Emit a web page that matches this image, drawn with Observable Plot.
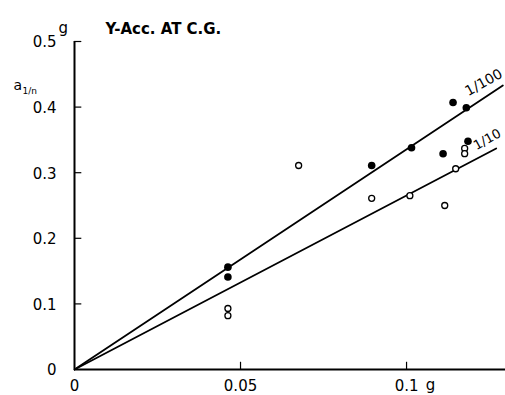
<!DOCTYPE html>
<html><head><meta charset="utf-8">
<script src="https://cdn.jsdelivr.net/npm/d3@7"></script>
<script src="https://cdn.jsdelivr.net/npm/@observablehq/plot@0.6"></script>
<style>body{margin:0;background:#fff}</style>
</head><body><div id="chart"></div>
<script>
const title = "Y-Acc. AT C.G.";
const xTicks = [0, 0.05, 0.1];
const xTickLabels = ["0", "0.05", "0.1"];
const yTicks = [0, 0.1, 0.2, 0.3, 0.4, 0.5];
const yTickLabels = ["0", "0.1", "0.2", "0.3", "0.4", "0.5"];
// 1/100 (filled) data
const filledX = [0.0462, 0.0462, 0.0895, 0.1015, 0.111, 0.114, 0.118, 0.1185];
const filledY = [0.156, 0.141, 0.311, 0.338, 0.329, 0.407, 0.399, 0.348];
// 1/10 (open) data
const openX = [0.0462, 0.0462, 0.0675, 0.0895, 0.101, 0.1115, 0.1148, 0.1175, 0.1175];
const openY = [0.093, 0.082, 0.311, 0.261, 0.265, 0.25, 0.306, 0.337, 0.329];
// fitted lines
const lineX100 = [0, 0.129], lineY100 = [0, 0.433];
const lineX10 = [0, 0.127], lineY10 = [0, 0.337];
const lineLabels = ["1/100", "1/10"];

const filled = filledX.map((x, i) => ({x, y: filledY[i]}));
const open = openX.map((x, i) => ({x, y: openY[i]}));
const l100 = lineX100.map((x, i) => ({x, y: lineY100[i]}));
const l10 = lineX10.map((x, i) => ({x, y: lineY10[i]}));
const font = "DejaVu Sans";

const chart = Plot.plot({
  width: 505, height: 395,
  marginLeft: 74, marginRight: 0, marginTop: 41, marginBottom: 26,
  style: {fontFamily: font, background: "#fff"},
  x: {domain: [0, 0.1298], axis: null},
  y: {domain: [0, 0.5], axis: null},
  marks: [
    Plot.ruleY([0], {x1: 0, x2: 0.1298, stroke: "#000", strokeWidth: 2}),
    Plot.ruleX([0], {y1: 0, y2: 0.5, stroke: "#000", strokeWidth: 2}),
    Plot.ruleX(xTicks.slice(1), {y1: 0, y2: 0.011, stroke: "#000", strokeWidth: 1.2}),
    Plot.ruleY(yTicks.slice(1), {x1: 0, x2: 0.0022, stroke: "#000", strokeWidth: 1.2}),
    Plot.text(xTicks, {x: d => d, y: 0, text: (d, i) => xTickLabels[i], dy: 17, fontSize: 15, fill: "#000"}),
    Plot.text(["g"], {x: xTicks[2], y: 0, text: d => d, dx: 24, dy: 16, fontSize: 15, fill: "#000"}),
    Plot.text(yTicks, {x: 0, y: d => d, text: (d, i) => yTickLabels[i], dx: -18, dy: 1, textAnchor: "end", fontSize: 15, fill: "#000"}),
    Plot.line(l100, {x: "x", y: "y", stroke: "#000", strokeWidth: 1.8}),
    Plot.line(l10, {x: "x", y: "y", stroke: "#000", strokeWidth: 1.8}),
    Plot.dot(filled, {x: "x", y: "y", r: 3.8, fill: "#000", stroke: "none"}),
    Plot.dot(open, {x: "x", y: "y", r: 3, fill: "#fff", stroke: "#000", strokeWidth: 1.3}),
    Plot.text([lineLabels[0]], {x: lineX100[1], y: lineY100[1], text: d => d, dx: -19, dy: -3, rotate: -29, fontSize: 14, fill: "#000"}),
    Plot.text([lineLabels[1]], {x: lineX10[1], y: lineY10[1], text: d => d, dx: -9, dy: -9, rotate: -29, fontSize: 13, fill: "#000"}),
    Plot.text([title], {frameAnchor: "top-left", text: d => d, dx: 31, dy: -18, textAnchor: "start", fontSize: 15, fontWeight: "bold", fill: "#000"}),
    Plot.text(["g"], {frameAnchor: "top-left", text: d => d, dx: -16, dy: -19, fontSize: 15, fill: "#000"}),
    Plot.text(["a"], {frameAnchor: "top-left", text: d => d, dx: -61, dy: 39, fontSize: 14, fill: "#000"}),
    Plot.text(["1/n"], {frameAnchor: "top-left", text: d => d, dx: -52, dy: 46, fontSize: 9, fill: "#000"})
  ]
});
document.getElementById("chart").append(chart);
</script>
</body></html>
